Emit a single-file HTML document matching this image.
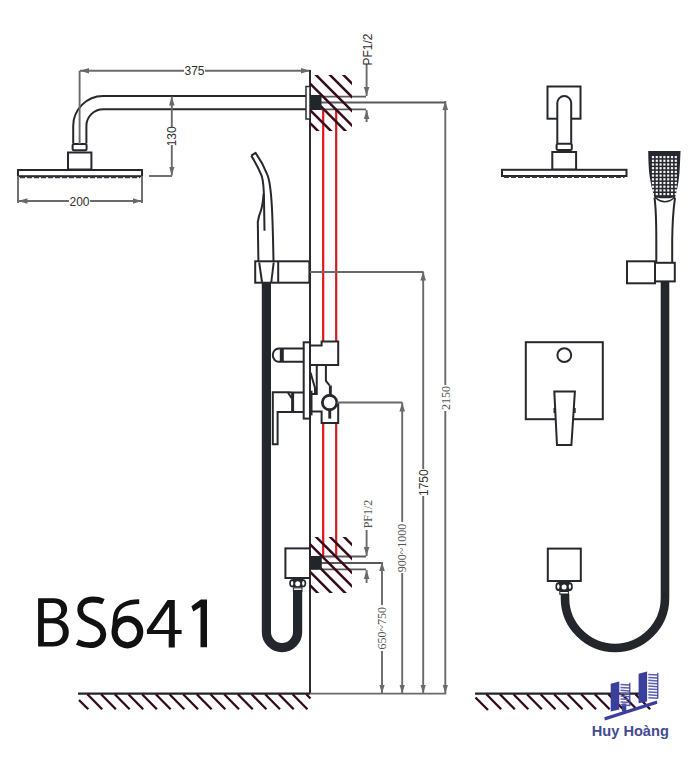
<!DOCTYPE html>
<html><head><meta charset="utf-8">
<style>
html,body{margin:0;padding:0;background:#fff;}
body{width:700px;height:770px;overflow:hidden;}
svg{display:block;}
text{font-family:"Liberation Sans",sans-serif;}
.s{font-family:"Liberation Serif",serif;}
</style></head><body>
<svg width="700" height="770" viewBox="0 0 700 770">
<defs>
<marker id="ar" viewBox="0 0 10 10" refX="10" refY="5" markerWidth="9" markerHeight="9" markerUnits="userSpaceOnUse" orient="auto-start-reverse"><path d="M0,1.9 L10,5 L0,8.1 z" fill="#6a6a6a"/></marker>
<clipPath id="hcT"><rect x="310" y="75" width="42" height="56"/></clipPath>
<clipPath id="hcB"><rect x="310" y="537" width="42" height="56"/></clipPath>
</defs>
<rect width="700" height="770" fill="#fff"/>

<!-- ===== LEFT SHOWER HEAD ===== -->
<g fill="none" stroke="#26282d" stroke-width="2">
  <path d="M73.2,143.5 V126 A30,30 0 0 1 103,96 H306"/>
  <path d="M86.4,143.5 V126 A16.8,16.8 0 0 1 103.2,109.2 H306"/>
  <rect x="72.6" y="144" width="14" height="6.2" rx="1.5"/>
  <rect x="68" y="152.5" width="23.4" height="17"/>
  <rect x="18" y="170" width="124" height="6.2"/>
</g>
<path d="M20,177.5 H140" stroke="#3a3c42" stroke-width="1.6" stroke-dasharray="5,2" fill="none"/>

<!-- dims left -->
<g stroke="#6a6a6a" stroke-width="1.9" fill="none">
  <line x1="79.6" y1="70.7" x2="79.6" y2="144"/>
  <line x1="80" y1="70.7" x2="310" y2="70.7" marker-start="url(#ar)" marker-end="url(#ar)"/>
  <line x1="18" y1="176" x2="18" y2="203"/>
  <line x1="142" y1="176" x2="142" y2="203"/>
  <line x1="18.5" y1="201" x2="141.5" y2="201" marker-start="url(#ar)" marker-end="url(#ar)"/>
  <line x1="149" y1="176" x2="172" y2="176"/>
  <line x1="171.8" y1="96.5" x2="171.8" y2="175.5" marker-start="url(#ar)" marker-end="url(#ar)"/>
</g>
<g font-size="12" fill="#303030">
  <rect x="184" y="64" width="21" height="13" fill="#fff"/>
  <text x="194.5" y="75" text-anchor="middle">375</text>
  <rect x="69" y="195" width="21" height="12" fill="#fff"/>
  <text x="79.5" y="205.5" text-anchor="middle">200</text>
  <rect x="166" y="127" width="12" height="18" fill="#fff"/>
  <text transform="translate(176,136.3) rotate(-90)" text-anchor="middle">130</text>
</g>

<!-- ===== WALL ===== -->
<line x1="310" y1="70" x2="310" y2="694" stroke="#2b2d33" stroke-width="2"/>
<!-- red pipes -->
<g stroke-width="2.2">
<line x1="323.2" y1="110" x2="323.2" y2="342" stroke="#e01414"/>
<line x1="336.2" y1="110" x2="336.2" y2="342" stroke="#cc1c20"/>
<line x1="323.2" y1="422" x2="323.2" y2="556" stroke="#e01414"/>
<line x1="336.2" y1="422" x2="336.2" y2="556" stroke="#cc1c20"/>
</g>

<!-- top wall connection -->
<rect x="306" y="86.5" width="4" height="32.5" fill="#fff" stroke="#2b2d33" stroke-width="1.5"/>
<g stroke="#5a5a5a" stroke-width="1.8">
  <line x1="321" y1="96.6" x2="366" y2="96.6"/>
  <line x1="321" y1="102.5" x2="445" y2="102.5"/>
  <line x1="321" y1="109.3" x2="366" y2="109.3"/>
</g>
<g clip-path="url(#hcT)" stroke="#38091a" stroke-width="2.5">
  <line x1="280" y1="11.5" x2="380" y2="111.5"/>
  <line x1="280" y1="25" x2="380" y2="125"/>
  <line x1="280" y1="39" x2="380" y2="139"/>
  <line x1="280" y1="53.4" x2="380" y2="153.4"/>
  <line x1="280" y1="65.5" x2="380" y2="165.5"/>
  <line x1="280" y1="80" x2="380" y2="180"/>
  <line x1="280" y1="93" x2="380" y2="193"/>
</g>
<rect x="310" y="95" width="11.5" height="15" fill="#22262b"/>

<!-- PF1/2 top -->
<g stroke="#6a6a6a" stroke-width="1.9" fill="none">
  <line x1="366.6" y1="64" x2="366.6" y2="96" marker-end="url(#ar)"/>
  <line x1="366.6" y1="122" x2="366.6" y2="110" marker-end="url(#ar)"/>
</g>
<text transform="translate(371.5,49.5) rotate(-90)" font-size="12" fill="#2e2e2e" text-anchor="middle">PF1/2</text>

<!-- bottom wall connection -->
<g stroke="#5a5a5a" stroke-width="1.8">
  <line x1="321" y1="556.5" x2="366" y2="556.5"/>
  <line x1="321" y1="563" x2="382" y2="563"/>
  <line x1="321" y1="569.3" x2="366" y2="569.3"/>
</g>
<g clip-path="url(#hcB)" stroke="#38091a" stroke-width="2.5">
  <line x1="280" y1="472.8" x2="380" y2="572.8"/>
  <line x1="280" y1="486.8" x2="380" y2="586.8"/>
  <line x1="280" y1="500.8" x2="380" y2="600.8"/>
  <line x1="280" y1="514.3" x2="380" y2="614.3"/>
  <line x1="280" y1="527.8" x2="380" y2="627.8"/>
  <line x1="280" y1="541.8" x2="380" y2="641.8"/>
  <line x1="280" y1="555.3" x2="380" y2="655.3"/>
</g>
<rect x="310" y="556" width="11.8" height="13.8" fill="#22262b"/>
<g stroke="#6a6a6a" stroke-width="1.9" fill="none">
  <line x1="366.6" y1="530" x2="366.6" y2="556" marker-end="url(#ar)"/>
  <line x1="366.6" y1="583" x2="366.6" y2="570" marker-end="url(#ar)"/>
</g>
<text class="s" transform="translate(371.5,514) rotate(-90)" font-size="12" fill="#555" text-anchor="middle">PF1/2</text>


<!-- ===== HAND SHOWER LEFT ===== -->
<g fill="none" stroke="#26282d" stroke-width="2" stroke-linejoin="round">
  <path d="M251.2,155.6 L255.6,152.8 C260,159 264,166 267.3,174.6 C270,181 271.3,196 271.9,207.3 C272.5,218 273,235 273.5,261"/>
  <path d="M251.2,155.6 C254,160 258,167 261.8,176.2 C263.3,181 263.9,190 264,200 L264.5,230.7"/>
  <path d="M263.6,194 C263,202 262,207 261,210.4 C259.5,214 258.4,218 257.8,222 L258.4,261"/>
</g>
<!-- hose left -->
<path d="M266.4,282 V632 A15.6,15.6 0 0 0 297.6,632 V591" fill="none" stroke="#23262b" stroke-width="9.2"/>
<!-- holder -->
<g fill="#fff" stroke="#26282d" stroke-width="2">
  <rect x="255.2" y="261.3" width="54.2" height="21.4"/>
</g>
<g fill="none" stroke="#26282d" stroke-width="2">
  <line x1="278.2" y1="261.3" x2="278.2" y2="282.7"/>
  <line x1="259.2" y1="262.5" x2="262" y2="282"/>
  <line x1="273.7" y1="262.5" x2="271.3" y2="282"/>
</g>

<!-- ===== VALVE LEFT ===== -->
<g fill="#fff" stroke="#26282d" stroke-width="2" stroke-linejoin="miter">
  <!-- knob -->
  <path d="M303.7,348.4 H278.7 A5.9,6.7 0 0 0 278.7,361.8 H303.7"/>
  <!-- upper body -->
  <path d="M310,345.5 H321.6 V341.4 H338.2 V365 H310 Z"/>
  <!-- lever -->
  <path d="M303.4,392.5 H292.6 L288,392.3 H272.8 V444.3 H277.6 V412.1 H303.4"/>
  <!-- lower box -->
  <path d="M312,411.6 H321.6 V422.9 H338.2 V402"/>
</g>
<g fill="none" stroke="#26282d" stroke-width="2">
  <line x1="292.6" y1="392.5" x2="292.6" y2="412" stroke-width="3"/>
  <path d="M287.8,392.3 L291.5,398"/>
  <path d="M316.75,365 V394 H312"/>
  <path d="M310.5,372.5 L315,388 V393"/>
  <path d="M325.9,365 V381 L329.6,385.4"/>
</g>
<line x1="311.2" y1="390.7" x2="311.2" y2="415.4" stroke="#26282d" stroke-width="2.6"/>
<rect x="279.8" y="348.4" width="4" height="13.4" fill="#26282d"/>
<rect x="328.9" y="385.4" width="2.9" height="10" fill="#26282d"/>
<rect x="328.3" y="409" width="2.9" height="9.6" fill="#26282d"/>
<circle cx="329.6" cy="402.5" r="7.25" fill="#fff" stroke="#26282d" stroke-width="2.8"/>
<rect x="303.7" y="342.3" width="6.3" height="76.3" fill="#fff" stroke="#26282d" stroke-width="2"/>

<!-- ===== LOWER OUTLET LEFT ===== -->
<rect x="285.4" y="548.4" width="24.6" height="29.6" fill="#fff" stroke="#26282d" stroke-width="2"/>
<g transform="translate(297.7,579.0)">
  <rect x="-8.5" y="0" width="17" height="8.6" rx="4" fill="#23262b"/>
  <ellipse cx="-5.6" cy="4.3" rx="1.2" ry="2.4" fill="#fff"/>
  <ellipse cx="5.6" cy="4.3" rx="1.2" ry="2.4" fill="#fff"/>
  <circle cx="0" cy="4.7" r="2.5" fill="#fff"/>
  <rect x="-4.8" y="8.4" width="9.6" height="4.5" fill="#23262b"/>
  <rect x="-3.8" y="9.4" width="7.6" height="1.5" fill="#fff"/>
</g>


<!-- ===== RIGHT DIMS ===== -->
<g stroke="#6a6a6a" stroke-width="1.9" fill="none">
  <line x1="310" y1="272" x2="423.2" y2="272"/>
  <line x1="337" y1="402.5" x2="402.2" y2="402.5"/>
  <line x1="445.3" y1="101" x2="445.3" y2="693.5" marker-start="url(#ar)" marker-end="url(#ar)"/>
  <line x1="423.2" y1="271.5" x2="423.2" y2="693.5" marker-start="url(#ar)" marker-end="url(#ar)"/>
  <line x1="402.2" y1="402.5" x2="402.2" y2="693.5" marker-start="url(#ar)" marker-end="url(#ar)"/>
  <line x1="382" y1="562" x2="382" y2="693.5" marker-start="url(#ar)" marker-end="url(#ar)"/>
  <line x1="310" y1="693.6" x2="446.2" y2="693.6"/>
</g>
<g fill="#fff">
  <rect x="440" y="385" width="11" height="26"/>
  <rect x="417" y="469" width="12" height="27"/>
  <rect x="396.5" y="522" width="11" height="51"/>
  <rect x="376.5" y="605" width="11" height="46"/>
</g>
<g font-size="12" fill="#555">
  <text class="s" transform="translate(449.5,398) rotate(-90)" text-anchor="middle">2150</text>
  <text transform="translate(427.6,482.7) rotate(-90)" text-anchor="middle" fill="#333">1750</text>
  <text class="s" transform="translate(406.3,548) rotate(-90)" text-anchor="middle">900~1000</text>
  <text class="s" transform="translate(386,628.2) rotate(-90)" text-anchor="middle">650~750</text>
</g>

<!-- ===== FLOOR ===== -->
<line x1="78" y1="693.6" x2="310" y2="693.6" stroke="#222428" stroke-width="2.2"/>
<line x1="475" y1="693.6" x2="640" y2="693.6" stroke="#222428" stroke-width="2.2"/>
<g stroke="#33091a" stroke-width="2.3" id="fh">
  <line x1="79" y1="700" x2="88.3" y2="709.3"/>
  <line x1="87.4" y1="694.3" x2="102.2" y2="709.3"/>
  <line x1="101.1" y1="694.3" x2="115.9" y2="709.3"/>
  <line x1="114.8" y1="694.3" x2="129.6" y2="709.3"/>
  <line x1="128.4" y1="694.3" x2="143.2" y2="709.3"/>
  <line x1="142.1" y1="694.3" x2="156.9" y2="709.3"/>
  <line x1="155.8" y1="694.3" x2="170.6" y2="709.3"/>
  <line x1="169.5" y1="694.3" x2="184.3" y2="709.3"/>
  <line x1="183.2" y1="694.3" x2="198.0" y2="709.3"/>
  <line x1="196.8" y1="694.3" x2="211.6" y2="709.3"/>
  <line x1="210.5" y1="694.3" x2="225.3" y2="709.3"/>
  <line x1="224.2" y1="694.3" x2="239.0" y2="709.3"/>
  <line x1="237.9" y1="694.3" x2="252.7" y2="709.3"/>
  <line x1="251.6" y1="694.3" x2="266.4" y2="709.3"/>
  <line x1="265.2" y1="694.3" x2="280.0" y2="709.3"/>
  <line x1="278.9" y1="694.3" x2="293.7" y2="709.3"/>
  <line x1="292.6" y1="694.3" x2="307.4" y2="709.3"/>
  <line x1="306.3" y1="694.3" x2="310.5" y2="698.5"/>
  <line x1="475.5" y1="697.5" x2="488" y2="710"/>
  <line x1="486.4" y1="694.3" x2="501.2" y2="709.3"/>
  <line x1="499.9" y1="694.3" x2="514.8" y2="709.3"/>
  <line x1="513.5" y1="694.3" x2="528.3" y2="709.3"/>
  <line x1="527.0" y1="694.3" x2="541.8" y2="709.3"/>
  <line x1="540.6" y1="694.3" x2="555.4" y2="709.3"/>
  <line x1="554.1" y1="694.3" x2="568.9" y2="709.3"/>
  <line x1="567.7" y1="694.3" x2="582.5" y2="709.3"/>
  <line x1="581.2" y1="694.3" x2="596.0" y2="709.3"/>
  <line x1="594.8" y1="694.3" x2="609.6" y2="709.3"/>
  <line x1="608.4" y1="694.3" x2="623.1" y2="709.3"/>
  <line x1="621.9" y1="694.3" x2="636.7" y2="709.3"/>
  <line x1="635.5" y1="694.3" x2="650.2" y2="709.3"/>
</g>

<!-- ===== BS641 ===== -->
<g fill="#111" fill-rule="evenodd">
  <path d="M38.1,598.2 H53.5 C62,598.2 67.1,602.3 67.1,609.3 C67.1,614.5 63.8,618.3 59,619.8 C65,621 68.8,625.5 68.8,632.3 C68.8,641.2 62.5,646.6 52.5,646.6 H38.1 Z M43.9,602.9 V618.3 H52.3 C58,618.3 61.2,615 61.2,610.3 C61.2,605.5 57.8,602.9 52.5,602.9 Z M43.9,623.3 V641.9 H52.5 C59,641.9 62.8,638.5 62.8,632.5 C62.8,626.5 58.8,623.3 52,623.3 Z"/>
  <path d="M167.6,600 H174.8 V630 H181.6 V634.1 H174.8 V647.5 H168.7 V634.1 H146.9 V630 Z M169.1,606.8 V630 H153 Z"/>
</g>
<g fill="none" stroke="#111">
  <path stroke-width="5.8" d="M103.4,601.6 C100.2,600.1 96.8,599.5 92.8,599.5 C85,599.5 80.2,603.8 80.2,609.8 C80.2,616.2 85,619 92,621.8 C99.8,625 103.3,628.3 103.3,634 C103.3,641 97.6,645.2 90,645.2 C84.6,645.2 80.6,643.8 77.2,642.2"/>
  <path stroke-width="4.6" d="M139.2,601.6 C127,601.6 118.5,606 116.2,613.5 C115,617.5 114.6,626 114.6,632"/>
  <ellipse stroke-width="6.2" cx="127.4" cy="632.1" rx="12.8" ry="13.2"/>
</g>
<path d="M200.8,599.5 H207 V647.2 H200.5 V607 L193.3,611.6 L191.4,606.2 Z" fill="#111"/>


<!-- ===== RIGHT PRODUCT ===== -->
<g fill="#fff" stroke="#26282d" stroke-width="2">
  <rect x="547.5" y="86.5" width="33" height="32.2"/>
  <path d="M557.3,143.6 V103 A6.95,6.95 0 0 1 571.2,103 V143.6"/>
  <rect x="556.6" y="143.8" width="15.2" height="6.3" rx="1.5"/>
  <rect x="552.3" y="152" width="23.8" height="17.6"/>
  <rect x="502" y="169.8" width="124.5" height="6.2"/>
</g>
<path d="M504,177.3 H624.5" stroke="#3a3c42" stroke-width="1.6" stroke-dasharray="5,2" fill="none"/>

<!-- hand shower right -->
<g fill="none" stroke="#26282d" stroke-width="2">
  <path d="M654.5,197.7 C655.5,205 656.3,215 656.3,240 V262"/>
  <path d="M675,197.7 C674,205 672.5,215 672.2,240 V262"/>
</g>
<path d="M648.2,150.9 H680.5 C680.2,160 679.8,167 679.5,172.3 C679,178 678.5,182 677.7,185.9 C677,190 676,194 675,197.7 Q665,207.5 654.5,197.7 C653.5,194 652.3,190 651.4,185.9 C650.3,180 649.5,176 649.1,172.3 C648.7,167 648.3,160 648.2,150.9 Z" fill="#26282d"/>
<path d="M656.3,197.4 Q665,199.2 673.7,197.4 Q665,204.6 656.3,197.4 Z" fill="#fff"/>
<g fill="#f4f4f4">
<rect x="651.9" y="156.0" width="2.2" height="2.2"/>
<rect x="655.7" y="156.0" width="2.2" height="2.2"/>
<rect x="659.5" y="156.0" width="2.2" height="2.2"/>
<rect x="663.3" y="156.0" width="2.2" height="2.2"/>
<rect x="667.1" y="156.0" width="2.2" height="2.2"/>
<rect x="670.9" y="156.0" width="2.2" height="2.2"/>
<rect x="674.7" y="156.0" width="2.2" height="2.2"/>
<rect x="651.9" y="159.7" width="2.2" height="2.2"/>
<rect x="655.7" y="159.7" width="2.2" height="2.2"/>
<rect x="659.5" y="159.7" width="2.2" height="2.2"/>
<rect x="663.3" y="159.7" width="2.2" height="2.2"/>
<rect x="667.1" y="159.7" width="2.2" height="2.2"/>
<rect x="670.9" y="159.7" width="2.2" height="2.2"/>
<rect x="674.7" y="159.7" width="2.2" height="2.2"/>
<rect x="651.9" y="163.4" width="2.2" height="2.2"/>
<rect x="655.7" y="163.4" width="2.2" height="2.2"/>
<rect x="659.5" y="163.4" width="2.2" height="2.2"/>
<rect x="663.3" y="163.4" width="2.2" height="2.2"/>
<rect x="667.1" y="163.4" width="2.2" height="2.2"/>
<rect x="670.9" y="163.4" width="2.2" height="2.2"/>
<rect x="674.7" y="163.4" width="2.2" height="2.2"/>
<rect x="651.9" y="167.1" width="2.2" height="2.2"/>
<rect x="655.7" y="167.1" width="2.2" height="2.2"/>
<rect x="659.5" y="167.1" width="2.2" height="2.2"/>
<rect x="663.3" y="167.1" width="2.2" height="2.2"/>
<rect x="667.1" y="167.1" width="2.2" height="2.2"/>
<rect x="670.9" y="167.1" width="2.2" height="2.2"/>
<rect x="674.7" y="167.1" width="2.2" height="2.2"/>
<rect x="651.9" y="170.8" width="2.2" height="2.2"/>
<rect x="655.7" y="170.8" width="2.2" height="2.2"/>
<rect x="659.5" y="170.8" width="2.2" height="2.2"/>
<rect x="663.3" y="170.8" width="2.2" height="2.2"/>
<rect x="667.1" y="170.8" width="2.2" height="2.2"/>
<rect x="670.9" y="170.8" width="2.2" height="2.2"/>
<rect x="674.7" y="170.8" width="2.2" height="2.2"/>
<rect x="651.9" y="174.5" width="2.2" height="2.2"/>
<rect x="655.7" y="174.5" width="2.2" height="2.2"/>
<rect x="659.5" y="174.5" width="2.2" height="2.2"/>
<rect x="663.3" y="174.5" width="2.2" height="2.2"/>
<rect x="667.1" y="174.5" width="2.2" height="2.2"/>
<rect x="670.9" y="174.5" width="2.2" height="2.2"/>
<rect x="674.7" y="174.5" width="2.2" height="2.2"/>
<rect x="651.9" y="178.2" width="2.2" height="2.2"/>
<rect x="655.7" y="178.2" width="2.2" height="2.2"/>
<rect x="659.5" y="178.2" width="2.2" height="2.2"/>
<rect x="663.3" y="178.2" width="2.2" height="2.2"/>
<rect x="667.1" y="178.2" width="2.2" height="2.2"/>
<rect x="670.9" y="178.2" width="2.2" height="2.2"/>
<rect x="674.7" y="178.2" width="2.2" height="2.2"/>
<rect x="651.9" y="181.9" width="2.2" height="2.2"/>
<rect x="655.7" y="181.9" width="2.2" height="2.2"/>
<rect x="659.5" y="181.9" width="2.2" height="2.2"/>
<rect x="663.3" y="181.9" width="2.2" height="2.2"/>
<rect x="667.1" y="181.9" width="2.2" height="2.2"/>
<rect x="670.9" y="181.9" width="2.2" height="2.2"/>
<rect x="674.7" y="181.9" width="2.2" height="2.2"/>
<rect x="651.9" y="185.6" width="2.2" height="2.2"/>
<rect x="655.7" y="185.6" width="2.2" height="2.2"/>
<rect x="659.5" y="185.6" width="2.2" height="2.2"/>
<rect x="663.3" y="185.6" width="2.2" height="2.2"/>
<rect x="667.1" y="185.6" width="2.2" height="2.2"/>
<rect x="670.9" y="185.6" width="2.2" height="2.2"/>
<rect x="674.7" y="185.6" width="2.2" height="2.2"/>
<rect x="651.9" y="189.3" width="2.2" height="2.2"/>
<rect x="655.7" y="189.3" width="2.2" height="2.2"/>
<rect x="659.5" y="189.3" width="2.2" height="2.2"/>
<rect x="663.3" y="189.3" width="2.2" height="2.2"/>
<rect x="667.1" y="189.3" width="2.2" height="2.2"/>
<rect x="670.9" y="189.3" width="2.2" height="2.2"/>
<rect x="674.7" y="189.3" width="2.2" height="2.2"/>
<rect x="651.9" y="193.0" width="2.2" height="2.2"/>
<rect x="655.7" y="193.0" width="2.2" height="2.2"/>
<rect x="659.5" y="193.0" width="2.2" height="2.2"/>
<rect x="663.3" y="193.0" width="2.2" height="2.2"/>
<rect x="667.1" y="193.0" width="2.2" height="2.2"/>
<rect x="670.9" y="193.0" width="2.2" height="2.2"/>
<rect x="674.7" y="193.0" width="2.2" height="2.2"/>
</g>
<!-- holder right -->
<g fill="#fff" stroke="#26282d" stroke-width="2">
  <rect x="627" y="261.3" width="28" height="22"/>
  <rect x="655" y="262.8" width="19.8" height="18.6"/>
</g>

<!-- hose right -->
<path d="M665,281 V598 A50,50 0 0 1 565,598 V594" fill="none" stroke="#23262b" stroke-width="8.6"/>

<!-- mixer plate -->
<g fill="#fff" stroke="#26282d" stroke-width="2">
  <rect x="525.8" y="342.2" width="77" height="77"/>
  <circle cx="564.3" cy="355.2" r="6.9"/>
  <path d="M554.3,391.4 H574.9 L571.4,445 H557 Z"/>
</g>
<g stroke="#26282d" stroke-width="1.6">
  <line x1="554.3" y1="408" x2="554.3" y2="413"/>
  <line x1="574.9" y1="408" x2="574.9" y2="413"/>
</g>

<!-- outlet right -->
<rect x="547.8" y="548.6" width="33" height="32.4" fill="#fff" stroke="#26282d" stroke-width="2"/>
<g transform="translate(564.1,582.0)">
  <rect x="-8.65" y="0" width="17.3" height="9.2" rx="4" fill="#23262b"/>
  <ellipse cx="-5.8" cy="4.6" rx="1.2" ry="2.4" fill="#fff"/>
  <ellipse cx="5.8" cy="4.6" rx="1.2" ry="2.4" fill="#fff"/>
  <circle cx="0" cy="5.0" r="2.5" fill="#fff"/>
  <rect x="-4.8" y="9.0" width="9.6" height="3.8" fill="#23262b"/>
  <rect x="-3.8" y="10.0" width="7.6" height="1.5" fill="#fff"/>
</g>


<!-- ===== LOGO ===== -->
<g fill="#3b3f9c">
  <path d="M610.7,683.8 L619.3,681.4 V709.5 L610.7,711.6 Z"/>
  <path d="M638.6,673.8 L647.1,671.6 V701.5 L638.6,703.2 Z"/>
  <path d="M604.3,717.2 L656.8,700.5 L657.4,703.8 L604.9,720.6 Z"/>
  <rect x="622" y="703.5" width="4.3" height="8"/>
</g>
<g stroke="#5a5fb0" stroke-width="1.5">
<line x1="620.5" y1="684.5" x2="629.8" y2="685.1"/>
<line x1="620.5" y1="687.4" x2="629.8" y2="688.0"/>
<line x1="620.5" y1="690.3" x2="629.8" y2="690.9"/>
<line x1="620.5" y1="693.2" x2="629.8" y2="693.8"/>
<line x1="620.5" y1="696.1" x2="629.8" y2="696.7"/>
<line x1="620.5" y1="699.0" x2="629.8" y2="699.6"/>
<line x1="620.5" y1="701.9" x2="629.8" y2="702.5"/>
<line x1="620.5" y1="704.8" x2="629.8" y2="705.4"/>
<line x1="648.3" y1="674.5" x2="657.8" y2="675.1"/>
<line x1="648.3" y1="677.4" x2="657.8" y2="678.0"/>
<line x1="648.3" y1="680.3" x2="657.8" y2="680.9"/>
<line x1="648.3" y1="683.2" x2="657.8" y2="683.8"/>
<line x1="648.3" y1="686.1" x2="657.8" y2="686.7"/>
<line x1="648.3" y1="689.0" x2="657.8" y2="689.6"/>
<line x1="648.3" y1="691.9" x2="657.8" y2="692.5"/>
<line x1="648.3" y1="694.8" x2="657.8" y2="695.4"/>
<line x1="648.3" y1="697.7" x2="657.8" y2="698.3"/>
</g>
<g stroke="#3b3f9c" stroke-width="1.2" fill="none">
  <line x1="629.8" y1="682.7" x2="629.8" y2="706"/>
  <line x1="657.8" y1="672.8" x2="657.8" y2="698.5"/>
</g>
<text x="591.8" y="736" font-size="14" font-weight="bold" fill="#434a92" textLength="77" lengthAdjust="spacingAndGlyphs">Huy Hoàng</text>

</svg>
</body></html>
